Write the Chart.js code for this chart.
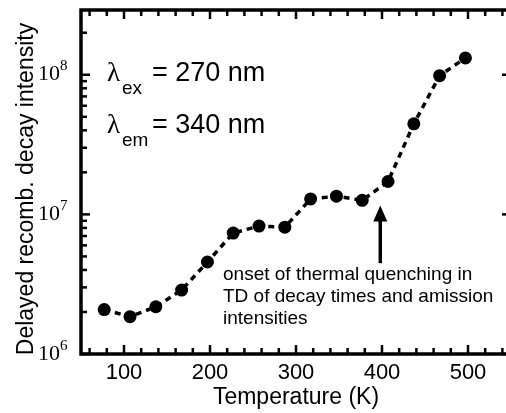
<!DOCTYPE html>
<html>
<head>
<meta charset="utf-8">
<script src="https://cdn.jsdelivr.net/npm/chart.js@4.4.0/dist/chart.umd.min.js"></script>
<style>
  body { margin: 0; overflow: hidden; background: #fff; }
  canvas { display: block; }
</style>
</head>
<body>
<canvas id="decay" width="520" height="413"></canvas>
<script>
// values
const temperatures = [77, 107, 137, 167, 197, 227, 257, 287, 317, 347, 377, 407, 437, 467, 497];
const intensity = [2.08e6, 1.85e6, 2.18e6, 2.87e6, 4.56e6, 7.35e6, 8.24e6, 8.1e6, 1.29e7, 1.35e7, 1.26e7, 1.72e7, 4.45e7, 9.85e7, 1.32e8];
const xTicks = [100, 200, 300, 400, 500];
const yDecades = [6, 7, 8];

const sans = '"Liberation Sans", Arial, sans-serif';
const serif = '"Liberation Serif", "Times New Roman", serif';

// arrow in data units
const arrowT = 398;
const arrowTip = 1.16e7;
const arrowTail = 4.47e6;

const noteLines = ['onset of thermal quenching in', 'TD of decay times and amission', 'intensities'];

function seg(ctx, x1, y1, x2, y2) {
  ctx.beginPath();
  ctx.moveTo(x1, y1);
  ctx.lineTo(x2, y2);
  ctx.stroke();
}

const axesPlugin = {
  id: 'axes',
  afterDraw(chart) {
    const ctx = chart.ctx;
    const { left, right, top, bottom } = chart.chartArea;
    const x = chart.scales.x;
    const y = chart.scales.y;
    ctx.save();
    ctx.strokeStyle = '#000';
    ctx.fillStyle = '#000';

    // frame
    ctx.lineWidth = 3.5;
    ctx.strokeRect(left, top, right - left, bottom - top);

    // x ticks (top and bottom, inward)
    ctx.lineWidth = 2.5;
    for (let v = 60; v <= 540; v += 20) {
      const px = x.getPixelForValue(v);
      const len = v % 100 === 0 ? 9 : 6;
      seg(ctx, px, bottom, px, bottom - len);
      seg(ctx, px, top, px, top + len);
    }
    // y ticks (left and right, inward)
    for (let d = 6; d <= 8; d++) {
      for (let m = 1; m <= 9; m++) {
        const v = m * Math.pow(10, d);
        if (v > y.max) break;
        const py = y.getPixelForValue(v);
        seg(ctx, left, py, left + (m === 1 ? 9 : 6), py);
        seg(ctx, right, py, right - (m === 1 ? 9 : 4), py);
      }
    }

    // x labels
    ctx.font = '22px ' + sans;
    ctx.textAlign = 'center';
    ctx.textBaseline = 'alphabetic';
    xTicks.forEach(t => ctx.fillText(String(t), x.getPixelForValue(t), 379));
    ctx.font = '23px ' + sans;
    ctx.fillText('Temperature (K)', (left + right) / 2, 404);

    // y labels 10^n
    yDecades.forEach(d => {
      const py = y.getPixelForValue(Math.pow(10, d));
      ctx.font = '22px ' + serif;
      ctx.textAlign = 'right';
      ctx.fillText('10', 60, py + 5.5);
      ctx.font = '15px ' + serif;
      ctx.textAlign = 'left';
      ctx.fillText(String(d), 60, py - 4.5);
    });

    // y title
    ctx.save();
    ctx.translate(33, 189);
    ctx.rotate(-Math.PI / 2);
    ctx.font = '23px ' + sans;
    ctx.textAlign = 'center';
    ctx.fillText('Delayed recomb. decay intensity', 0, 0);
    ctx.restore();

    // lambda labels
    const lam = [['ex', '= 270 nm', 81], ['em', '= 340 nm', 133]];
    lam.forEach(([sub, rest, base]) => {
      ctx.textAlign = 'left';
      ctx.font = '27px ' + serif;
      ctx.fillText('\u03bb', 107, base);
      ctx.font = '19px ' + sans;
      ctx.fillText(sub, 122, base + 13);
      ctx.font = '27px ' + sans;
      ctx.fillText(rest, 152, base);
    });

    // arrow
    const ax = x.getPixelForValue(arrowT);
    const tipY = y.getPixelForValue(arrowTip);
    const tailY = y.getPixelForValue(arrowTail);
    ctx.lineWidth = 3.5;
    seg(ctx, ax, tailY, ax, tipY + 12);
    ctx.beginPath();
    ctx.moveTo(ax, tipY);
    ctx.lineTo(ax - 7, tipY + 16);
    ctx.lineTo(ax + 7, tipY + 16);
    ctx.closePath();
    ctx.fill();

    // note text
    ctx.font = '19px ' + sans;
    ctx.textAlign = 'left';
    noteLines.forEach((t, i) => ctx.fillText(t, 223, 280 + i * 22));

    ctx.restore();
  }
};

new Chart(document.getElementById('decay'), {
  type: 'line',
  data: {
    datasets: [{
      data: temperatures.map((t, i) => ({ x: t, y: intensity[i] })),
      borderColor: '#000',
      borderWidth: 3.5,
      borderDash: [6, 5],
      pointRadius: 6.5,
      pointBackgroundColor: '#000',
      pointBorderWidth: 0,
      tension: 0
    }]
  },
  options: {
    responsive: false,
    animation: false,
    layout: { padding: { left: 81, right: 9, top: 10, bottom: 59 } },
    scales: {
      x: { type: 'linear', min: 50, max: 550, display: false },
      y: { type: 'logarithmic', min: 1e6, max: 2.91e8, display: false }
    },
    plugins: {
      legend: { display: false },
      tooltip: { enabled: false }
    }
  },
  plugins: [axesPlugin]
});
</script>
</body>
</html>
